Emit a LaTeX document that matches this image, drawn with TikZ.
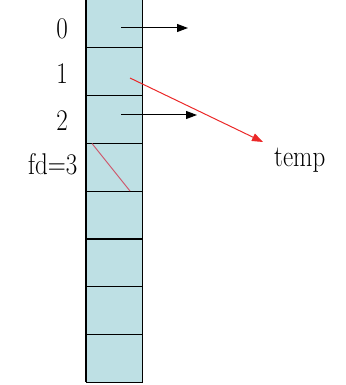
\documentclass[tikz,border=0pt]{standalone}
\usetikzlibrary{arrows.meta}
\definecolor{cellfill}{RGB}{190,224,228}
\definecolor{redline}{RGB}{235,40,40}
\definecolor{pinkline}{RGB}{205,90,110}
\newcommand{\tallt}[1]{\scalebox{1}[1.2]{#1}}
\tikzset{
  cell/.style={rectangle,fill=cellfill,minimum width=56.5pt,minimum height=47.8pt,inner sep=0pt,outer sep=0pt},
  lbl/.style={inner sep=0pt,font=\fontsize{25}{29}\selectfont},
  blackarrow/.style={line width=1pt,-{Triangle[length=11pt,width=8pt]}},
  redarrow/.style={redline,line width=1pt,-{Triangle[length=11pt,width=8pt]}}
}
\begin{document}
\begin{tikzpicture}[x=1pt,y=-1pt]
\useasboundingbox (0,0) rectangle (345,385);
\foreach \i in {0,...,7}{
  \node[cell] (c\i) at (114.25,{47.8*\i+23.9}) {};
}
\draw[line width=1.1pt] (c0.north west) -- (c7.south west);
\draw[line width=1.1pt] (c0.north east) -- (c7.south east);
\foreach \i in {0,...,7}{
  \draw[line width=1.1pt] (c\i.south west) -- (c\i.south east);
}
\node[lbl,anchor=base] (l0) at (62,39) {\tallt{0}};
\node[lbl,anchor=base] (l1) at (62,84) {\tallt{1}};
\node[lbl,anchor=base] (l2) at (62,131) {\tallt{2}};
\node[lbl,anchor=base east] (l3) at (77.5,174) {\tallt{fd=3}};
\node[lbl,anchor=base west] (temp) at (274,166) {\tallt{temp}};
\coordinate (s0) at (121,28);
\coordinate (e0) at (188,28);
\coordinate (s2) at (121,115);
\coordinate (e2) at (197,115);
\coordinate (s1) at (130,78);
\coordinate (e1) at (263,142);
\draw[blackarrow] (s0) -- (e0);
\draw[blackarrow] (s2) -- (e2);
\draw[redarrow] (s1) -- (e1);
\coordinate (d1) at (92,143.5);
\coordinate (d2) at (130,191);
\draw[pinkline,line width=1pt] (d1) -- (d2);
\end{tikzpicture}
\end{document}
